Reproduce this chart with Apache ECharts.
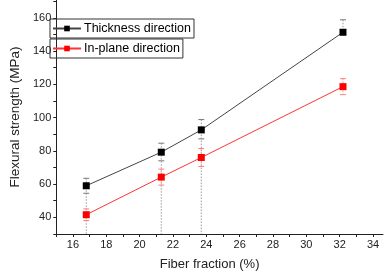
<!DOCTYPE html>
<html><head><meta charset="utf-8">
<script src="https://cdn.jsdelivr.net/npm/echarts@6/dist/echarts.min.js"></script>
<style>html,body{margin:0;padding:0;background:#fff}#c{width:384px;height:276px}</style>
</head><body><div id="c"></div>
<script>
const fiber = [16.8, 21.3, 23.7, 32.2];
const thick = [59, 79.2, 92.6, 151.3];
const inPlane = [41.6, 64.2, 76, 118.6];
const thickErrUp = [4.5, 5.4, 6.2, 7.5];
const thickErrDown = [4.5, 5.2, 5.4, 0];
const inPlaneErr = [3.5, 4.8, 5.4, 4.8];
const dropToAxis = [true, true, true, false];
const xTicks = [15,16,17,18,19,20,21,22,23,24,25,26,27,28,29,30,31,32,33,34];
const xLabels = [16,18,20,22,24,26,28,30,32,34];
const yTicks = [30,40,50,60,70,80,90,100,110,120,130,140,150,160,170];
const yLabels = [40,60,80,100,120,140,160];

const chart = echarts.init(document.getElementById('c'), null, {renderer:'canvas'});
const font = 'Liberation Sans, Arial, sans-serif';

function errItem(color, capColor){
  return function(params, api){
    const x = api.value(0), lo = api.value(1), hi = api.value(2), drop = api.value(3);
    const pHi = api.coord([x, hi]);
    const pLo = api.coord([x, lo]);
    const children = [];
    const bottom = drop ? api.coord([x, 30]) : pLo;
    children.push({type:'line', shape:{x1:pHi[0], y1:pHi[1], x2:bottom[0], y2:bottom[1]},
      style:{stroke:color, lineWidth:1, lineDash:[1.5,1.5]}});
    children.push({type:'line', shape:{x1:pHi[0]-3, y1:pHi[1], x2:pHi[0]+3, y2:pHi[1]},
      style:{stroke:capColor, lineWidth:1}});
    if (lo !== hi && api.value(4)) {
      children.push({type:'line', shape:{x1:pLo[0]-3, y1:pLo[1], x2:pLo[0]+3, y2:pLo[1]},
        style:{stroke:capColor, lineWidth:1}});
    }
    return {type:'group', children};
  };
}

const thickErrData = fiber.map((x,i)=>[x, thick[i]-thickErrDown[i], thick[i]+thickErrUp[i], dropToAxis[i]?1:0, thickErrDown[i]>0?1:0]);
const inErrData = fiber.map((x,i)=>[x, inPlane[i]-inPlaneErr[i], inPlane[i]+inPlaneErr[i], 0, 1]);

chart.setOption({
  animation:false,
  grid:{left:40, right:1, top:0, bottom:38, containLabel:false},
  legend:[
    {data:['Thickness direction'], left:50, top:19, orient:'vertical', itemWidth:28, itemHeight:7,
     borderColor:'#333', borderWidth:1, padding:[3,3,3,2], itemGap:4,
     textStyle:{fontFamily:font, fontSize:12.5, color:'#000', padding:[0,0,0,-2]}},
    {data:['In-plane direction'], left:50, top:39, orient:'vertical', itemWidth:28, itemHeight:7,
     borderColor:'#333', borderWidth:1, padding:[3,3,3,2], itemGap:4,
     textStyle:{fontFamily:font, fontSize:12.5, color:'#000', padding:[0,0,0,-2]}}
  ],
  xAxis:{type:'value', min:15, max:34.6,
    name:'Fiber fraction (%)', nameLocation:'middle', nameGap:24,
    nameTextStyle:{fontFamily:font, fontSize:13, color:'#222', padding:[0,20,0,0]},
    axisLine:{lineStyle:{color:'#222', width:1}},
    axisTick:{show:true, customValues:xTicks, length:3, inside:false, lineStyle:{color:'#222'}},
    axisLabel:{customValues:xLabels, fontFamily:font, fontSize:11, color:'#222', margin:5},
    splitLine:{show:false}},
  yAxis:{type:'value', min:30, max:170.7,
    name:'Flexural strength (MPa)', nameLocation:'middle', nameGap:31,
    nameTextStyle:{fontFamily:font, fontSize:13.5, color:'#222'},
    axisLine:{show:true, lineStyle:{color:'#222', width:1}},
    axisTick:{show:true, customValues:yTicks, length:3, inside:false, lineStyle:{color:'#222'}},
    axisLabel:{customValues:yLabels, fontFamily:font, fontSize:11, color:'#222', margin:5},
    splitLine:{show:false}},
  series:[
    {type:'custom', name:'errThick', renderItem:errItem('#999', '#777'), data:thickErrData, z:1, silent:true},
    {type:'custom', name:'errIn', renderItem:errItem('#ff9a9a', '#ff8080'), data:inErrData, z:1, silent:true},
    {type:'line', name:'Thickness direction', data:fiber.map((x,i)=>[x, thick[i]]),
     symbol:'rect', symbolSize:7, showAllSymbol:true,
     lineStyle:{color:'#444', width:1}, itemStyle:{color:'#000'}, z:3},
    {type:'line', name:'In-plane direction', data:fiber.map((x,i)=>[x, inPlane[i]]),
     symbol:'rect', symbolSize:7,
     lineStyle:{color:'#ff3333', width:1}, itemStyle:{color:'#ff0000'}, z:3}
  ]
});
</script></body></html>
